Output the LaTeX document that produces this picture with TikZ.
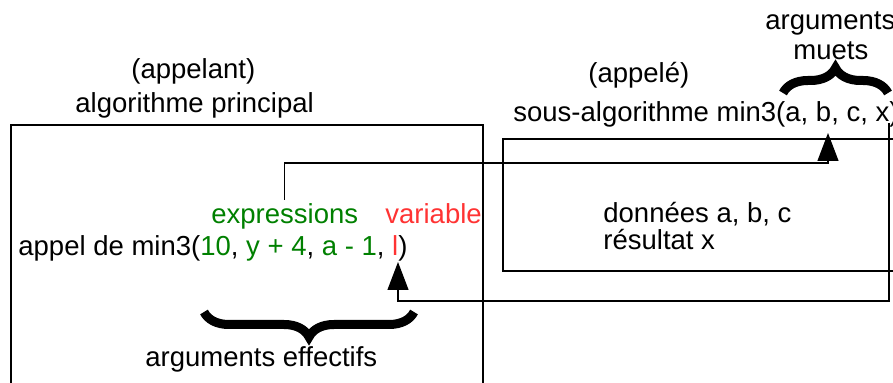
\documentclass[tikz,border=0pt]{standalone}
\usepackage{fontspec}
\setmainfont{Liberation Sans}
\usetikzlibrary{positioning}
\usetikzlibrary{arrows.meta}
\usetikzlibrary{decorations.pathreplacing}
\definecolor{exprgreen}{RGB}{0,128,0}
\definecolor{varred}{RGB}{255,51,51}

\begin{document}
\begin{tikzpicture}
	[
		x = 0.5pt, y = -0.5pt,
		mytext/.style = {inner sep = 0pt, anchor = base west, font = \fontsize{13.75}{16.5}\selectfont},
		myframe/.style = {draw, line width = 0.6pt},
		myarrow/.style = {line width = 0.6pt, -{Triangle[length = 14pt, width = 10.5pt]}},
		mybrace/.style = {decorate, decoration = {brace, amplitude = 12.5pt}, line width = 4.5pt}
	]
	%
	\useasboundingbox (0,0) rectangle (893,383);
	\clip (0,0) rectangle (893,383);
	%
	\draw [myframe] (11,400) |- (483,125) -- (483,400);
	\draw [myframe] (910,139) -| (503,271) -- (910,271);
	%
	\node (caller) [mytext] at (131,79) {(appelant)};
	\node (main) [mytext] at (75,113) {algorithme principal};
	\node (callee) [mytext] at (588,83) {(appelé)};
	\node (sub) [mytext] at (513,122) {sous-algorithme min3(a, b, c, x)};
	\node (dummy) [mytext] at (765,30) {arguments};
	\node (dummy2) [mytext] at (793,60) {muets};
	%
	\node (data) [mytext] at (603,223) {données a, b, c};
	\node (result) [mytext] at (603,250) {résultat x};
	%
	\node (expr) [mytext, text = exprgreen] at (211,224) {expressions};
	\node (var) [mytext, text = varred] at (385,224) {variable};
	\node (call) [mytext] at (18,256) {appel de min3(\textcolor{exprgreen}{10}, \textcolor{exprgreen}{y + 4}, \textcolor{exprgreen}{a - 1}, \textcolor{varred}{l})};
	\node (actual) [mytext] at (145,367) {arguments effectifs};
	%
	\coordinate (argb) at (828,133);
	\coordinate (topbend) at (828,163);
	\draw [myarrow] ([yshift = 2pt]expr.north) |- (topbend) -- (argb);
	%
	\coordinate (argx) at (889,123);
	\coordinate (lowbend) at (398,301);
	\coordinate (argl) at (398,262);
	\draw [myarrow] (argx) |- (lowbend) -- (argl);
	%
	\draw [mybrace] (783,93) -- (888,93);
	\draw [mybrace] (414,312) -- (204,312);
	%
\end{tikzpicture}
\end{document}
